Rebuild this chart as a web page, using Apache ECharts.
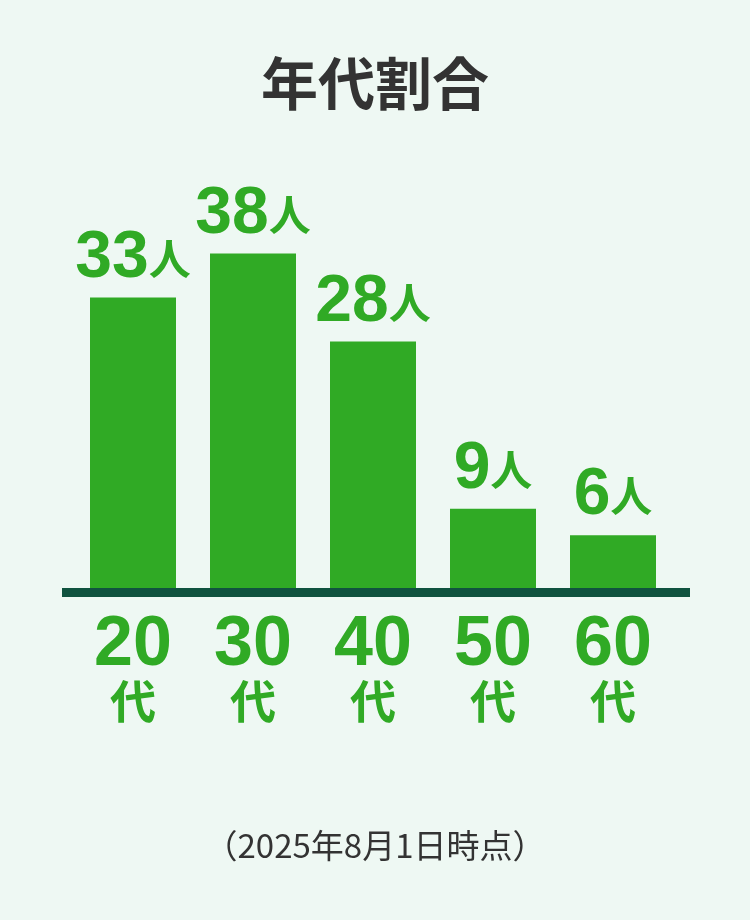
<!DOCTYPE html>
<html>
<head>
<meta charset="utf-8">
<script src="https://cdn.jsdelivr.net/npm/echarts@6/dist/echarts.min.js"></script>
<style>
  html, body { margin: 0; padding: 0; background: #eef8f3; }
  #main { width: 750px; height: 920px; }
</style>
</head>
<body>
<div id="main"></div>
<script>
// 年代別の人数
var ages = ['20', '30', '40', '50', '60'];
var counts = [33, 38, 28, 9, 6];
var unitLabel = '人';
var ageSuffix = '代';

var green = '#30aa25';
var font = '"Noto Sans CJK JP", "Noto Sans", sans-serif';
var numFont = '"Liberation Sans", Arial, sans-serif';

var chart = echarts.init(document.getElementById('main'));
chart.setOption({
    backgroundColor: '#eef8f3',
    title: [
        {
            text: '年代割合',
            left: 'center',
            top: 50,
            textStyle: { fontSize: 57, fontWeight: 'bold', color: '#333333', fontFamily: font }
        },
        {
            text: '（2025年8月1日時点）',
            left: 'center',
            top: 824,
            textStyle: { fontSize: 33, fontWeight: 'normal', color: '#333333', fontFamily: font }
        }
    ],
    grid: { left: 73, right: 77, top: 236, bottom: 332 },
    xAxis: {
        type: 'category',
        data: ages,
        axisLine: { show: false },
        axisTick: { show: false },
        axisLabel: {
            margin: 27,
            formatter: function (v) {
                return '{n|' + v + '}\n{d|' + ageSuffix + '}';
            },
            rich: {
                n: { fontSize: 70, fontWeight: 'bold', color: green, fontFamily: numFont, lineHeight: 62 },
                d: { fontSize: 46, fontWeight: 'bold', color: green, fontFamily: font, lineHeight: 48 }
            }
        }
    },
    yAxis: {
        type: 'value',
        min: 0,
        max: 40,
        show: false,
        splitLine: { show: false }
    },
    graphic: [
        {
            type: 'rect',
            shape: { x: 62, y: 588, width: 628, height: 9 },
            style: { fill: '#10533f' },
            z: 10
        }
    ],
    series: [
        {
            type: 'bar',
            data: counts,
            barWidth: 86,
            itemStyle: { color: green },
            label: {
                show: true,
                position: 'top',
                distance: 8,
                formatter: function (p) {
                    return '{n|' + p.value + '}{u|' + unitLabel + '}';
                },
                rich: {
                    n: { fontSize: 66, fontWeight: 'bold', color: green, fontFamily: numFont, lineHeight: 62 },
                    u: { fontSize: 42, fontWeight: 'bold', color: green, fontFamily: font, lineHeight: 50 }
                }
            }
        }
    ]
});
</script>
</body>
</html>
